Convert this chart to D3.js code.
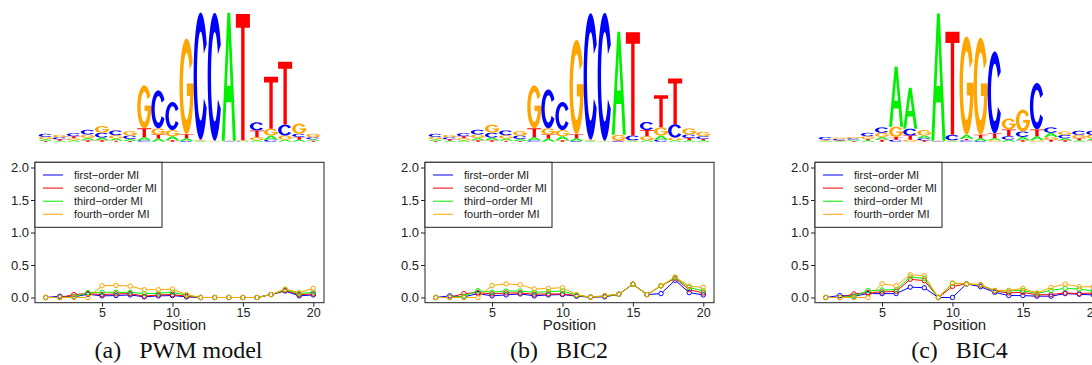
<!DOCTYPE html>
<html>
<head>
<meta charset="utf-8">
<script src="https://cdn.jsdelivr.net/npm/d3@7"></script>
<style>
  body { margin: 0; background: #fff; }
  svg { display: block; }
</style>
</head>
<body>
<svg id="fig" width="1092" height="365"></svg>
<script>
// ---- shared axis content ----
const positions = [1, 2, 3, 4, 5, 6, 7, 8, 9, 10, 11, 12, 13, 14, 15, 16, 17, 18, 19, 20];
const xTicks = [5, 10, 15, 20];
const yTicks = [0, 0.5, 1, 1.5, 2];
const yTickLabels = ["0.0", "0.5", "1.0", "1.5", "2.0"];
const seriesNames = ["first\u2212order MI", "second\u2212order MI", "third\u2212order MI", "fourth\u2212order MI"];
const seriesColors = ["#0000ff", "#ff0000", "#00f000", "#ffa500"];
const xTitle = "Position";
const captionTags = ["(a)", "(b)", "(c)"];
const captionNames = ["PWM model", "BIC2", "BIC4"];

// ---- mutual information per position ----
const pwmFirst  = [0, 0.02, 0.01, 0.05, 0.025, 0.03, 0.04, 0.01, 0.025, 0.03, 0.01, 0, 0, 0, 0, 0, 0.045, 0.10, 0.025, 0.04];
const pwmSecond = [0, 0, 0.045, 0.06, 0.045, 0.055, 0.06, 0.02, 0.04, 0.045, 0.02, 0, 0, 0, 0, 0, 0.045, 0.11, 0.045, 0.055];
const pwmThird  = [0, 0, 0.01, 0.075, 0.08, 0.08, 0.08, 0.06, 0.065, 0.08, 0.035, 0, 0, 0, 0, 0, 0.045, 0.12, 0.06, 0.08];
const pwmFourth = [0, 0, 0, 0, 0.18, 0.185, 0.175, 0.12, 0.12, 0.13, 0.045, 0, 0, 0, 0, 0, 0.045, 0.13, 0.075, 0.14];

const bic2First  = [0, 0.025, 0.01, 0.06, 0.025, 0.04, 0.055, 0.025, 0.04, 0.045, 0.02, 0.005, 0.01, 0.05, 0.205, 0.045, 0.06, 0.265, 0.075, 0.04];
const bic2Second = [0, 0, 0.06, 0.075, 0.055, 0.07, 0.07, 0.05, 0.055, 0.055, 0.03, 0.005, 0.02, 0.05, 0.205, 0.045, 0.18, 0.295, 0.12, 0.07];
const bic2Third  = [0, 0, 0.02, 0.105, 0.08, 0.1, 0.1, 0.08, 0.09, 0.1, 0.035, 0.005, 0.025, 0.05, 0.205, 0.045, 0.18, 0.305, 0.155, 0.1];
const bic2Fourth = [0, 0, 0, 0, 0.185, 0.21, 0.195, 0.13, 0.14, 0.15, 0.045, 0.005, 0.03, 0.05, 0.205, 0.045, 0.18, 0.315, 0.175, 0.155];

const bic4First  = [0, 0.03, 0.02, 0.06, 0.06, 0.06, 0.16, 0.15, 0, 0, 0.21, 0.165, 0.08, 0.03, 0.03, 0.02, 0.02, 0.06, 0.05, 0.04];
const bic4Second = [0, 0, 0.055, 0.075, 0.085, 0.095, 0.28, 0.26, 0, 0.17, 0.21, 0.19, 0.1, 0.07, 0.08, 0.04, 0.045, 0.07, 0.06, 0.07];
const bic4Third  = [0, 0, 0.02, 0.105, 0.115, 0.12, 0.315, 0.295, 0, 0.215, 0.21, 0.195, 0.105, 0.1, 0.11, 0.06, 0.11, 0.14, 0.13, 0.1];
const bic4Fourth = [0, 0, 0, 0, 0.21, 0.18, 0.35, 0.335, 0, 0.225, 0.21, 0.195, 0.11, 0.11, 0.14, 0.07, 0.155, 0.205, 0.165, 0.165];

// ---- sequence logo letter heights (bits) ----
const pwmLogoA = [0.025, 0.015, 0.02, 0.035, 0.04, 0.03, 0.03, 0.045, 0.045, 0.06, 0.04, 0.01, 0.005, 1.87, 0.005, 0.02, 0.06, 0.03, 0.03, 0.02];
const pwmLogoC = [0.045, 0.03, 0.045, 0.07, 0.07, 0.07, 0.05, 0.02, 0.556, 0.41, 0.01, 1.86, 1.87, 0.005, 0.005, 0.12, 0.03, 0.16, 0.045, 0.03];
const pwmLogoG = [0.035, 0.035, 0.03, 0.05, 0.10, 0.05, 0.065, 0.63, 0.09, 0.09, 1.40, 0.01, 0.005, 0.005, 0.01, 0.045, 0.10, 0.06, 0.15, 0.05];
const pwmLogoT = [0.01, 0.02, 0.03, 0.02, 0.02, 0.015, 0.01, 0.13, 0.06, 0.02, 0.06, 0.01, 0.005, 0.005, 1.85, 0.10, 0.76, 0.92, 0.04, 0.015];

const bic2LogoA = [0.025, 0.015, 0.02, 0.035, 0.04, 0.03, 0.03, 0.045, 0.045, 0.06, 0.04, 0.01, 0.005, 1.51, 0.01, 0.02, 0.06, 0.02, 0.02, 0.02];
const bic2LogoC = [0.045, 0.03, 0.045, 0.07, 0.07, 0.07, 0.05, 0.02, 0.57, 0.41, 0.01, 1.85, 1.87, 0.01, 0.07, 0.12, 0.03, 0.195, 0.05, 0.04];
const bic2LogoG = [0.035, 0.035, 0.03, 0.05, 0.12, 0.05, 0.065, 0.63, 0.09, 0.09, 1.38, 0.01, 0.005, 0.08, 0.01, 0.06, 0.12, 0.04, 0.09, 0.065];
const bic2LogoT = [0.01, 0.02, 0.03, 0.02, 0.02, 0.015, 0.01, 0.13, 0.06, 0.02, 0.06, 0.01, 0.005, 0.01, 1.51, 0.09, 0.47, 0.67, 0.035, 0.02];

const bic4LogoA = [0.01, 0.01, 0.02, 0.02, 0.04, 0.88, 0.6, 0.04, 1.86, 0.01, 0.06, 0.04, 0.03, 0.03, 0.05, 0.06, 0.06, 0.03, 0.02, 0.03];
const bic4LogoC = [0.04, 0.02, 0.02, 0.05, 0.08, 0.03, 0.1, 0.03, 0.005, 0.08, 0.02, 0.01, 1.2, 0.05, 0.08, 0.68, 0.08, 0.05, 0.06, 0.06];
const bic4LogoG = [0.01, 0.02, 0.02, 0.04, 0.06, 0.15, 0.03, 0.08, 0.005, 0.01, 1.44, 1.42, 0.02, 0.16, 0.32, 0.02, 0.04, 0.05, 0.05, 0.05];
const bic4LogoT = [0.01, 0.01, 0.01, 0.02, 0.03, 0.04, 0.06, 0.02, 0.005, 1.51, 0.02, 0.05, 0.07, 0.1, 0.02, 0.1, 0.03, 0.02, 0.03, 0.02];

const letterColors = { A: "#00f000", C: "#0000ff", G: "#ffa500", T: "#ff0000" };

const panels = [
  { dx: 0,   series: [pwmFirst, pwmSecond, pwmThird, pwmFourth],     logo: { A: pwmLogoA, C: pwmLogoC, G: pwmLogoG, T: pwmLogoT },     capX: 178.5 },
  { dx: 390, series: [bic2First, bic2Second, bic2Third, bic2Fourth], logo: { A: bic2LogoA, C: bic2LogoC, G: bic2LogoG, T: bic2LogoT }, capX: 559 },
  { dx: 780, series: [bic4First, bic4Second, bic4Third, bic4Fourth], logo: { A: bic4LogoA, C: bic4LogoC, G: bic4LogoG, T: bic4LogoT }, capX: 959.5 }
];

// ---- letter glyphs in a unit box (u right, v up) ----
function ring(t0, t1, rx, ry, n) {
  const outer = [], inner = [];
  for (let i = 0; i <= n; i++) {
    const t = t0 + (t1 - t0) * i / n;
    outer.push([0.5 + 0.5 * Math.cos(t), 0.5 + 0.5 * Math.sin(t)]);
    inner.push([0.5 + rx * Math.cos(t), 0.5 + ry * Math.sin(t)]);
  }
  return outer.concat(inner.reverse());
}
const deg = Math.PI / 180;
const glyphs = {
  A: { rule: "evenodd", parts: [[
        [[0, 0], [0.4, 1], [0.6, 1], [1, 0], [0.79, 0], [0.68, 0.3], [0.32, 0.3], [0.21, 0]],
        [[0.37, 0.43], [0.5, 0.78], [0.63, 0.43]]
      ]] },
  T: { rule: "nonzero", parts: [[
        [[0, 1], [1, 1], [1, 0.89], [0.62, 0.89], [0.62, 0], [0.38, 0], [0.38, 0.89], [0, 0.89]]
      ]] },
  C: { rule: "nonzero", parts: [[ ring(30 * deg, 330 * deg, 0.26, 0.35, 48) ]] },
  G: { rule: "nonzero", parts: [
        [ ring(30 * deg, 360 * deg, 0.26, 0.35, 48) ],
        [ [[0.52, 0.4], [1, 0.4], [1, 0.53], [0.52, 0.53]] ]
      ] }
};

function glyphPath(subpaths, x0, w, yBase, h) {
  return subpaths.map(pts =>
    "M" + pts.map(([u, v]) => (x0 + u * w).toFixed(2) + "," + (yBase - v * h).toFixed(2)).join("L") + "Z"
  ).join("");
}

const svg = d3.select("#fig");
const sansFont = "'Liberation Sans', Arial, Helvetica, sans-serif";
const serifFont = "'Liberation Serif', 'Times New Roman', serif";

// plot geometry shared by all panels (relative to panel origin)
const box = { left: 35, right: 324, top: 162.3, bottom: 302.7 };
const logoBase = 141.7;

panels.forEach((p, pi) => {
  const g = svg.append("g").attr("transform", `translate(${p.dx},0)`);

  const x = d3.scaleLinear().domain([0.24, 20.76]).range([box.left, box.right]);
  const y = d3.scaleLinear().domain([-0.08, 2.08]).range([box.bottom, box.top]);
  const bits = d3.scaleLinear().domain([0, 2]).range([0, 136.7]);
  const colW = x(2) - x(1);

  // ---- sequence logo ----
  const logoG = g.append("g");
  positions.forEach((pos, i) => {
    const stack = ["A", "C", "G", "T"]
      .map(L => ({ L, v: p.logo[L][i] }))
      .sort((a, b) => a.v - b.v);
    let base = logoBase;
    const x0 = x(pos) - colW / 2;
    stack.forEach(s => {
      const h = bits(s.v);
      const gl = glyphs[s.L];
      gl.parts.forEach(part => {
        logoG.append("path")
          .attr("d", glyphPath(part, x0, colW, base, h))
          .attr("fill", letterColors[s.L])
          .attr("fill-rule", gl.rule);
      });
      base -= h;
    });
  });

  // ---- MI lines (points with gapped connecting segments) ----
  const r = 2.2;
  p.series.forEach((vals, si) => {
    const pts = positions.map((pos, i) => [x(pos), y(vals[i])]);
    const segs = [];
    for (let i = 0; i < pts.length - 1; i++) {
      const [x1, y1] = pts[i], [x2, y2] = pts[i + 1];
      const len = Math.hypot(x2 - x1, y2 - y1);
      if (len <= 2 * r + 0.5) continue;
      const ux = (x2 - x1) / len, uy = (y2 - y1) / len;
      segs.push([[x1 + ux * r, y1 + uy * r], [x2 - ux * r, y2 - uy * r]]);
    }
    g.append("g").selectAll("path").data(segs).join("path")
      .attr("d", d => d3.line()(d))
      .attr("fill", "none")
      .attr("stroke", seriesColors[si])
      .attr("stroke-width", 1);
    g.append("g").selectAll("circle").data(pts).join("circle")
      .attr("cx", d => d[0]).attr("cy", d => d[1]).attr("r", r)
      .attr("fill", "none")
      .attr("stroke", seriesColors[si])
      .attr("stroke-width", 1);
  });

  // ---- axes ----
  const yAxis = d3.axisLeft(y).tickValues(yTicks)
    .tickFormat((d, i) => yTickLabels[i]).tickSize(4).tickSizeOuter(0).tickPadding(2);
  const ya = g.append("g").attr("transform", `translate(${box.left},0)`).call(yAxis);
  ya.select(".domain").remove();
  ya.selectAll("line").attr("stroke", "#222");
  ya.selectAll("text").attr("font-family", sansFont).attr("font-size", 13).attr("fill", "#222");

  const xAxis = d3.axisBottom(x).tickValues(xTicks).tickSize(4).tickSizeOuter(0).tickPadding(1.5);
  const xa = g.append("g").attr("transform", `translate(0,${box.bottom})`).call(xAxis);
  xa.select(".domain").remove();
  xa.selectAll("line").attr("stroke", "#222");
  xa.selectAll("text").attr("font-family", sansFont).attr("font-size", 12.5).attr("fill", "#222");

  g.append("rect")
    .attr("x", box.left).attr("y", box.top)
    .attr("width", box.right - box.left).attr("height", box.bottom - box.top)
    .attr("fill", "none").attr("stroke", "#222").attr("stroke-width", 1);

  g.append("text")
    .attr("x", (box.left + box.right) / 2).attr("y", 330)
    .attr("text-anchor", "middle")
    .attr("font-family", sansFont).attr("font-size", 15).attr("fill", "#222")
    .text(xTitle);

  // ---- legend ----
  const lg = g.append("g");
  lg.append("rect")
    .attr("x", box.left).attr("y", box.top).attr("width", 127).attr("height", 65)
    .attr("fill", "#fff").attr("stroke", "#222").attr("stroke-width", 1);
  seriesNames.forEach((name, si) => {
    const ly = 175 + si * 13.1;
    lg.append("line").attr("x1", 43).attr("x2", 63).attr("y1", ly).attr("y2", ly)
      .attr("stroke", seriesColors[si]).attr("stroke-width", 1);
    lg.append("text").attr("x", 74).attr("y", ly + 4)
      .attr("font-family", sansFont).attr("font-size", 11).attr("fill", "#222")
      .text(name);
  });

  // ---- caption ----
  const cap = svg.append("text")
    .attr("x", p.capX).attr("y", 358)
    .attr("text-anchor", "middle")
    .attr("font-family", serifFont).attr("font-size", 24).attr("fill", "#111");
  cap.append("tspan").text(captionTags[pi]);
  cap.append("tspan").attr("dx", 18).text(captionNames[pi]);
});
</script>
</body>
</html>
